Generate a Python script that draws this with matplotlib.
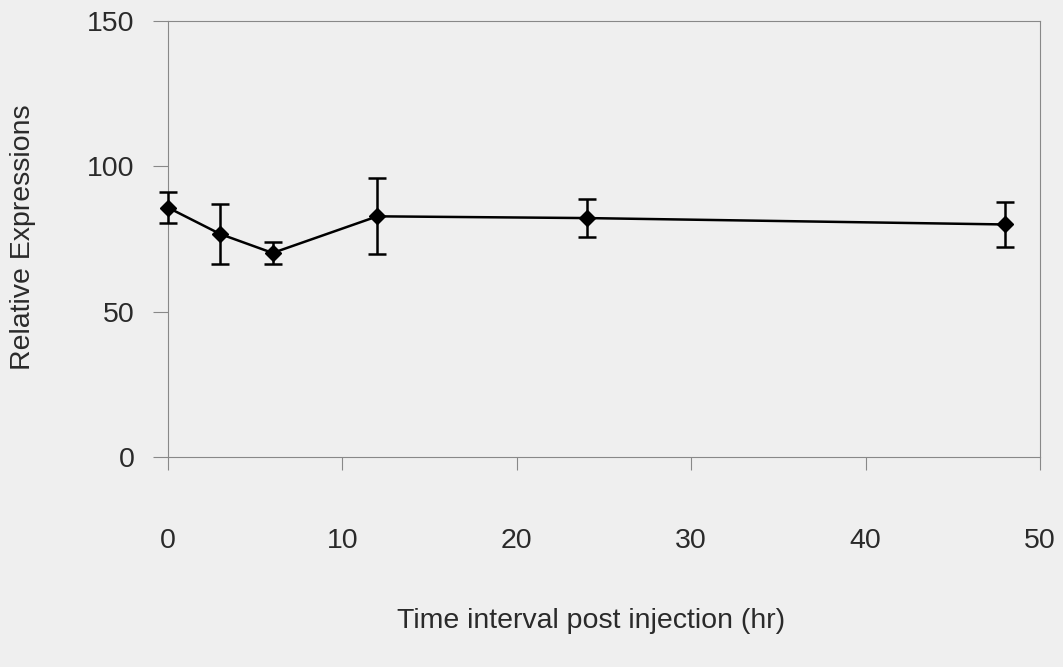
import matplotlib
matplotlib.use("Agg")
import matplotlib.pyplot as plt

# Data
time_hr = [0, 3, 6, 12, 24, 48]
rel_expr = [85.8, 76.7, 70.2, 82.8, 82.2, 80.0]
err = [5.3, 10.2, 3.8, 13.1, 6.4, 7.8]
x_ticks = [0, 10, 20, 30, 40, 50]
y_ticks = [0, 50, 100, 150]

bg = "#efefef"
fig = plt.figure(figsize=(10.63, 6.67), dpi=100, facecolor=bg)
ax = fig.add_axes([168 / 1063, 210 / 667, (1040 - 168) / 1063, (457 - 21) / 667])
ax.set_facecolor(bg)

ax.errorbar(time_hr, rel_expr, yerr=err, color="black", lw=1.8,
            marker="D", ms=8, mfc="black", mec="black",
            elinewidth=1.8, capsize=6.5, capthick=1.8, zorder=3, clip_on=False)

ax.set_xlim(0, 50)
ax.set_ylim(0, 150)
ax.set_xticks(x_ticks)
ax.set_yticks(y_ticks)

font = "Liberation Sans"
for s in ax.spines.values():
    s.set_color("#888888")
    s.set_linewidth(0.8)

ax.tick_params(axis="x", direction="out", length=9, width=0.8, color="#888888",
               pad=42, labelsize=20.5, labelcolor="#2a2a2a")
ax.tick_params(axis="y", direction="out", length=11, width=0.8, color="#888888",
               pad=13, labelsize=20.5, labelcolor="#2a2a2a")
for lab in ax.get_xticklabels() + ax.get_yticklabels():
    lab.set_fontfamily(font)

fig.text(591 / 1063, 1 - 621 / 667, "Time interval post injection (hr)",
         ha="center", va="center", fontsize=20.5, family=font, color="#2a2a2a")
fig.text(23 / 1063, 1 - 237 / 667, "Relative Expressions", rotation=90,
         ha="center", va="center", fontsize=20.5, family=font, color="#2a2a2a")

fig.savefig("out.png", dpi=100, facecolor=bg)
